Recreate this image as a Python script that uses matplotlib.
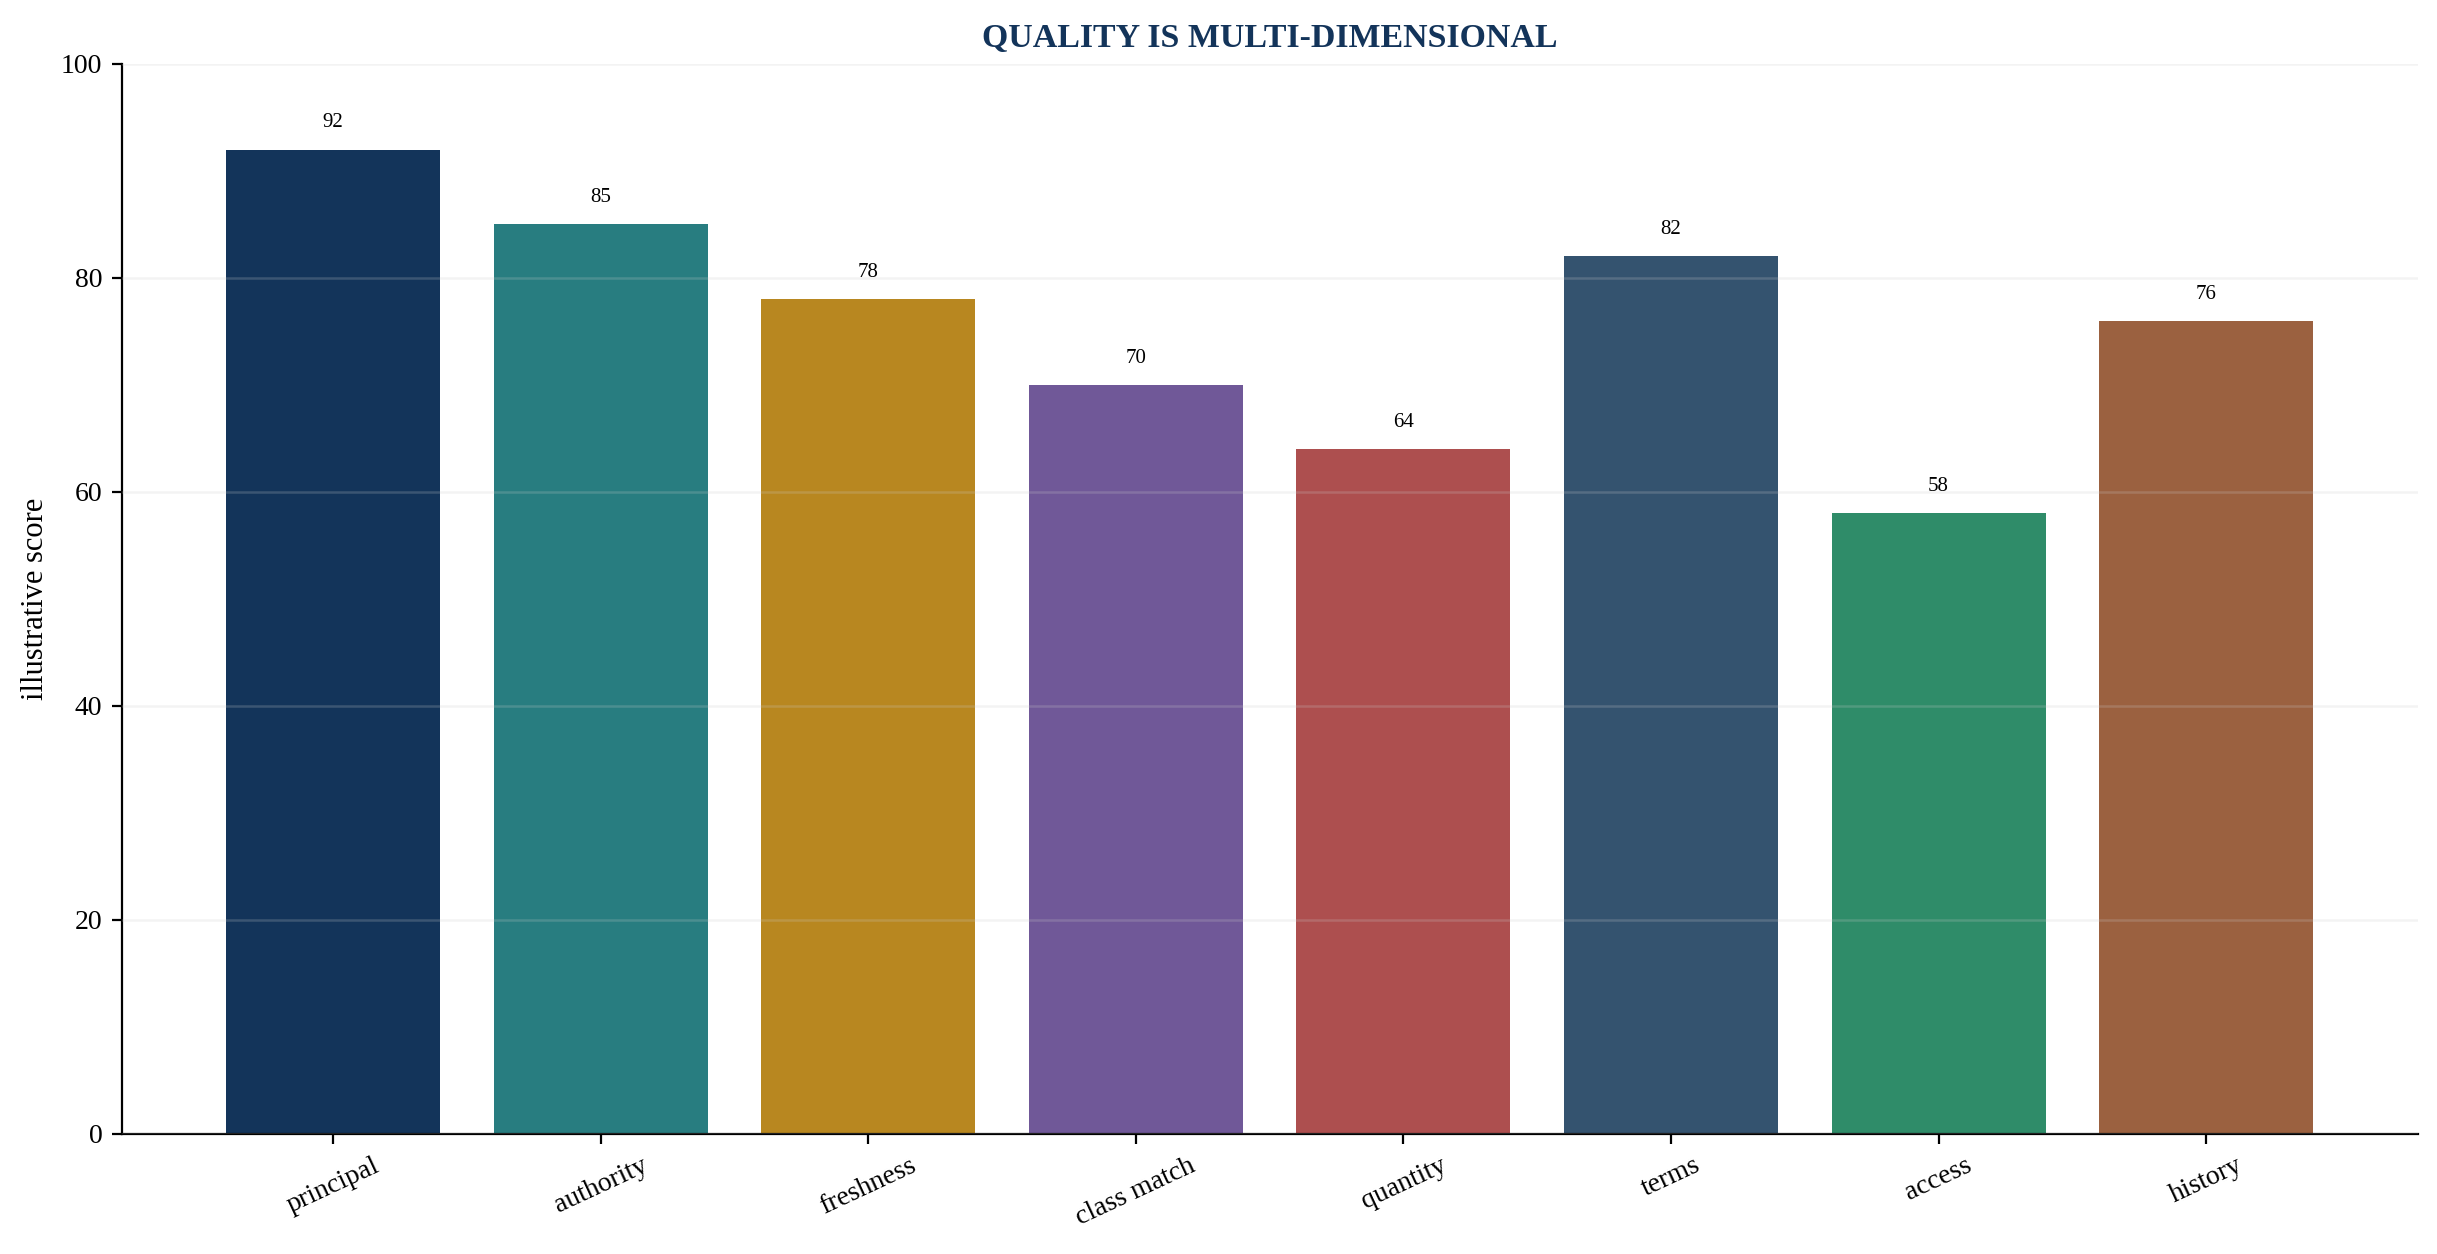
import numpy as np
import matplotlib
matplotlib.use("Agg")
import matplotlib.pyplot as plt

plt.rcParams["font.family"] = ["Liberation Serif", "DejaVu Serif"]

# datos
dimensiones = ["principal", "authority", "freshness", "class match",
               "quantity", "terms", "access", "history"]
puntajes = [92, 85, 78, 70, 64, 82, 58, 76]
colores = ["#13345a", "#287d80", "#b88720", "#705898",
           "#ad4f4f", "#34536f", "#2f8c69", "#9b6140"]

fig, ax = plt.subplots(figsize=(12.185, 6.27), dpi=200)
x = np.arange(len(dimensiones))
ax.bar(x, puntajes, width=0.8, color=colores, zorder=1)

for xi, v in zip(x, puntajes):
    ax.text(xi, v + 1.6, f"{v}", ha="center", va="bottom", fontsize=7.5)

ax.set_ylim(0, 100)
ax.set_xticks(x)
ax.set_xticklabels(dimensiones, rotation=25, ha="center", fontsize=10)
ax.tick_params(axis="y", labelsize=10)
ax.set_ylabel("illustrative score", fontsize=11)
ax.set_title("QUALITY IS MULTI-DIMENSIONAL", fontsize=12.2, fontweight="bold",
             color="#13345a")

# grilla encima de las barras, muy suave
ax.yaxis.grid(True, color="#cccccc", alpha=0.22, linewidth=0.9, zorder=3)
ax.set_axisbelow(False)
for s in ["top", "right"]:
    ax.spines[s].set_visible(False)

fig.subplots_adjust(left=0.05, right=0.992, top=0.949, bottom=0.096)
fig.savefig("out.png", dpi=200)
